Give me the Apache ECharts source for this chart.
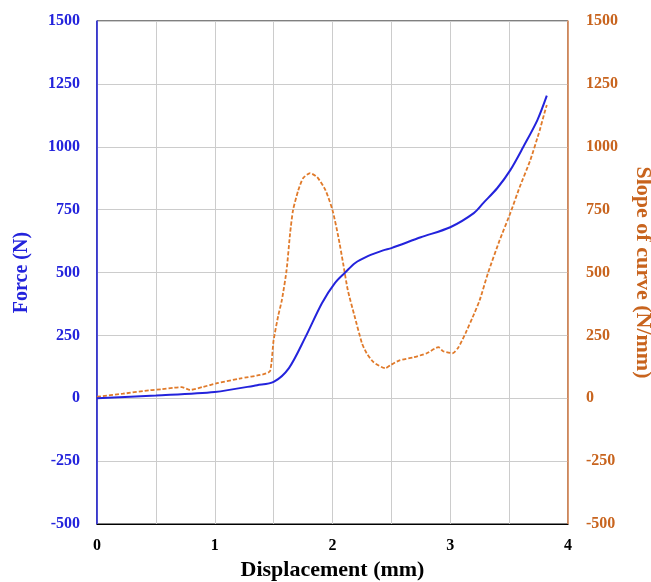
<!DOCTYPE html>
<html>
<head>
<meta charset="utf-8">
<script src="https://cdn.jsdelivr.net/npm/echarts@6/dist/echarts.min.js"></script>
<style>html,body{margin:0;padding:0;background:#fff}#c{width:651px;height:582px}</style>
</head>
<body>
<div id="c"></div>
<script>
// Force curve (N) vs displacement (mm)
const forceX = [0, 0.5, 1.0, 1.36, 1.5, 1.63, 1.77, 1.91, 2.02, 2.11, 2.19, 2.3, 2.43, 2.5, 2.75, 3.0, 3.2, 3.28, 3.4, 3.51, 3.62, 3.74, 3.82];
const forceY = [0, 11, 25, 52, 65, 120, 243, 378, 458, 501, 537, 565, 588, 597, 640, 680, 736, 776, 836, 907, 999, 1106, 1203];
// Slope of curve (N/mm) vs displacement (mm)
const slopeX = [0, 0.22, 0.45, 0.55, 0.65, 0.72, 0.79, 0.9, 1.02, 1.21, 1.41, 1.47, 1.5, 1.54, 1.57, 1.61, 1.64, 1.665, 1.71, 1.75, 1.81, 1.87, 1.94, 2.0, 2.05, 2.09, 2.13, 2.19, 2.25, 2.29, 2.35, 2.45, 2.49, 2.57, 2.69, 2.8, 2.9, 2.94, 3.02, 3.07, 3.13, 3.19, 3.25, 3.32, 3.42, 3.51, 3.59, 3.68, 3.76, 3.8, 3.82];
const slopeY = [6, 18, 32, 36, 42, 44, 33, 45, 60, 78, 95, 108, 231, 330, 390, 509, 656, 748, 828, 875, 895, 879, 828, 748, 641, 537, 430, 322, 219, 179, 143, 119, 131, 151, 163, 179, 203, 187, 179, 203, 259, 322, 390, 497, 629, 736, 840, 947, 1066, 1134, 1166];
const xTicks = [0, 1, 2, 3, 4];

const FONT = '"Liberation Serif", "Times New Roman", serif';
const BLUE = '#2323dc';
const ORANGE = '#c8641e';

const chart = echarts.init(document.getElementById('c'));
chart.setOption({
  animation: false,
  backgroundColor: '#fff',
  grid: { left: 97, right: 83, top: 21, bottom: 58, outerBoundsMode: 'none', containLabel: false,
    show: true, borderColor: '#000', borderWidth: 1, backgroundColor: 'transparent' },
  xAxis: {
    type: 'value', min: 0, max: 4, interval: 0.5,
    name: 'Displacement (mm)', nameLocation: 'middle', nameGap: 34,
    nameTextStyle: { fontFamily: FONT, fontWeight: 'bold', fontSize: 22, color: '#000' },
    axisLine: { show: true, onZero: false, lineStyle: { color: '#000', width: 1 } },
    axisTick: { show: false },
    axisLabel: { margin: 14, fontFamily: FONT, fontWeight: 'bold', fontSize: 16, color: '#000',
      formatter: v => xTicks.indexOf(v) >= 0 ? String(v) : '' },
    splitLine: { show: true, lineStyle: { color: '#cccccc', width: 1 } }
  },
  yAxis: [{
    type: 'value', min: -500, max: 1500, interval: 250, position: 'left',
    name: 'Force (N)', nameLocation: 'middle', nameGap: 65, nameRotate: 90,
    nameTextStyle: { fontFamily: FONT, fontWeight: 'bold', fontSize: 20, color: BLUE },
    axisLine: { show: true, onZero: false, lineStyle: { color: BLUE, width: 1.5 } },
    axisTick: { show: false },
    axisLabel: { margin: 17, fontFamily: FONT, fontWeight: 'bold', fontSize: 16, color: BLUE,
      formatter: v => String(v) },
    splitLine: { show: true, lineStyle: { color: '#cccccc', width: 1 } }
  }, {
    type: 'value', min: -500, max: 1500, interval: 250, position: 'right',
    name: 'Slope of curve (N/mm)', nameLocation: 'middle', nameGap: 64, nameRotate: -90,
    nameTextStyle: { fontFamily: FONT, fontWeight: 'bold', fontSize: 22, color: ORANGE },
    axisLine: { show: true, onZero: false, lineStyle: { color: '#e08a55', width: 1.5 } },
    axisTick: { show: false },
    axisLabel: { margin: 18, fontFamily: FONT, fontWeight: 'bold', fontSize: 16, color: ORANGE,
      formatter: v => String(v) },
    splitLine: { show: false }
  }],
  series: [{
    type: 'line', yAxisIndex: 0, showSymbol: false, smooth: 0.3,
    data: forceX.map((x, i) => [x, forceY[i]]),
    lineStyle: { color: BLUE, width: 2 }, z: 3
  }, {
    type: 'line', yAxisIndex: 1, showSymbol: false, smooth: 0.2,
    data: slopeX.map((x, i) => [x, slopeY[i]]),
    lineStyle: { color: '#e07a2a', width: 1.8, type: [4, 2] }, z: 2
  }]
});
</script>
</body>
</html>
